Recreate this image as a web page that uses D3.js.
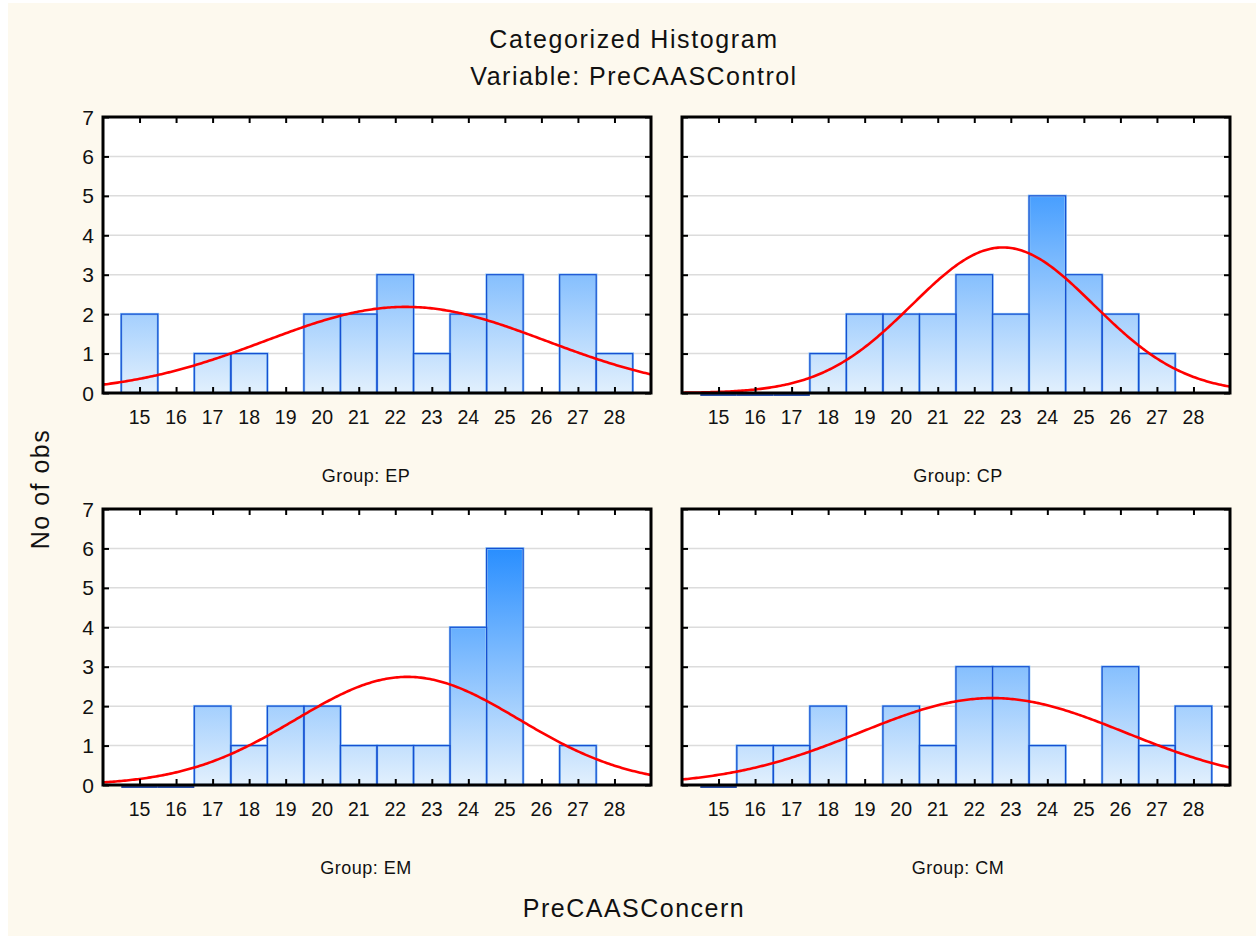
<!DOCTYPE html>
<html>
<head>
<meta charset="utf-8">
<script src="https://cdn.jsdelivr.net/npm/d3@7"></script>
<style>
  html, body { margin: 0; padding: 0; background: #ffffff; }
  svg { display: block; }
  text { font-family: "Liberation Sans", Arial, sans-serif; fill: #111; }
</style>
</head>
<body>
<svg id="chart" width="1256" height="936"></svg>
<script>
// ---------- data ----------
const bins = [15, 16, 17, 18, 19, 20, 21, 22, 23, 24, 25, 26, 27, 28];
const groupNames = ["EP", "CP", "EM", "CM"];
const countsEP = [2, 0, 1, 1, 0, 2, 2, 3, 1, 2, 3, 0, 3, 1];
const countsCP = [0, 0, 0, 1, 2, 2, 2, 3, 2, 5, 3, 2, 1, 0];
const countsEM = [0, 0, 2, 1, 2, 2, 1, 1, 1, 4, 6, 0, 1, 0];
const countsCM = [0, 1, 1, 2, 0, 2, 1, 3, 3, 1, 0, 3, 1, 2];
const yTicks = [0, 1, 2, 3, 4, 5, 6, 7];
const titleLines = ["Categorized Histogram", "Variable: PreCAASControl"];
const xTitle = "PreCAASConcern";
const yTitle = "No of obs";

const allCounts = [countsEP, countsCP, countsEM, countsCM];

// ---------- layout ----------
const W = 1256, H = 936;
const panelW = 548, panelH = 276;
const colX = [103, 682];
const rowY = [117, 509];

const svg = d3.select("#chart");
svg.append("rect").attr("width", W).attr("height", H).attr("fill", "#ffffff");
svg.append("rect").attr("x", 8).attr("y", 3).attr("width", W - 8).attr("height", H - 3).attr("fill", "#fdf9ee");

const x = d3.scaleLinear().domain([14, 29]).range([0, panelW]);
const y = d3.scaleLinear().domain([0, 7]).range([panelH, 0]);

const defs = svg.append("defs");
const grad = defs.append("linearGradient")
  .attr("id", "barGrad")
  .attr("gradientUnits", "userSpaceOnUse")
  .attr("x1", 0).attr("x2", 0)
  .attr("y1", y(0)).attr("y2", y(7));
grad.append("stop").attr("offset", "0%").attr("stop-color", "#e2f0fd");
grad.append("stop").attr("offset", "100%").attr("stop-color", "#0a7eff");

defs.append("clipPath").attr("id", "plotClip")
  .append("rect").attr("x", 0).attr("y", 0).attr("width", panelW).attr("height", panelH);

// titles
svg.append("text").attr("x", 634).attr("y", 48).attr("text-anchor", "middle")
  .attr("font-size", 25).attr("letter-spacing", 1.6).text(titleLines[0]);
svg.append("text").attr("x", 634).attr("y", 85).attr("text-anchor", "middle")
  .attr("font-size", 25).attr("letter-spacing", 1.5).text(titleLines[1]);
svg.append("text").attr("x", 634).attr("y", 917).attr("text-anchor", "middle")
  .attr("font-size", 25).attr("letter-spacing", 1.5).text(xTitle);
svg.append("text").attr("transform", "translate(49,489) rotate(-90)").attr("text-anchor", "middle")
  .attr("font-size", 25).attr("letter-spacing", 1.5).text(yTitle);

const line = d3.line().x(d => x(d[0])).y(d => y(d[1]));

allCounts.forEach((counts, gi) => {
  const col = gi % 2, row = Math.floor(gi / 2);
  const g = svg.append("g").attr("transform", `translate(${colX[col]},${rowY[row]})`);

  g.append("rect").attr("width", panelW).attr("height", panelH).attr("fill", "#ffffff");

  g.selectAll("line.grid").data(yTicks.slice(1, -1)).join("line")
    .attr("class", "grid")
    .attr("x1", 0).attr("x2", panelW)
    .attr("y1", d => y(d)).attr("y2", d => y(d))
    .attr("stroke", "#dcdcdc").attr("stroke-width", 1.5);

  const data = bins.map((b, i) => ({ b, c: counts[i] }));
  const firstNonZero = counts.findIndex(c => c > 0);

  g.selectAll("rect.bar").data(data.filter(d => d.c > 0)).join("rect")
    .attr("class", "bar")
    .attr("x", d => x(d.b - 0.5))
    .attr("y", d => y(d.c))
    .attr("width", d => x(d.b + 0.5) - x(d.b - 0.5))
    .attr("height", d => y(0) - y(d.c))
    .attr("fill", "url(#barGrad)")
    .attr("stroke", "#8cc2f6").attr("stroke-width", 2.5);
  g.selectAll("rect.barin").data(data.filter(d => d.c > 0)).join("rect")
    .attr("class", "barin")
    .attr("x", d => x(d.b - 0.5))
    .attr("y", d => y(d.c))
    .attr("width", d => x(d.b + 0.5) - x(d.b - 0.5))
    .attr("height", d => y(0) - y(d.c))
    .attr("fill", "none")
    .attr("stroke", "#1650d2").attr("stroke-width", 1.2);

  const leading = data.slice(0, Math.max(firstNonZero, 0));
  g.selectAll("line.zero").data(leading).join("line")
    .attr("class", "zero")
    .attr("x1", d => x(d.b - 0.5)).attr("x2", d => x(d.b + 0.5))
    .attr("y1", y(0) + 2).attr("y2", y(0) + 2)
    .attr("stroke", "#2a4fa8").attr("stroke-width", 2);

  // fitted normal curve (from the counts)
  const n = d3.sum(counts);
  const mean = d3.sum(data, d => d.b * d.c) / n;
  const sd = Math.sqrt(d3.sum(data, d => d.c * (d.b - mean) ** 2) / (n - 1));
  const pts = d3.range(0, 301).map(i => {
    const xv = 14 + i * 15 / 300;
    const yv = n * Math.exp(-0.5 * ((xv - mean) / sd) ** 2) / (sd * Math.sqrt(2 * Math.PI));
    return [xv, yv];
  });
  g.append("path").datum(pts).attr("d", line)
    .attr("fill", "none").attr("stroke", "#ff0000").attr("stroke-width", 2.6)
    .attr("clip-path", "url(#plotClip)");

  const tickLen = 6;
  const styleTicks = a => {
    a.select(".domain").remove();
    a.selectAll("line").attr("stroke", "#000").attr("stroke-width", 2);
  };
  g.append("g").attr("transform", `translate(0,${panelH})`)
    .call(d3.axisBottom(x).tickValues(bins).tickSize(-tickLen).tickFormat("")).call(styleTicks);
  g.append("g")
    .call(d3.axisTop(x).tickValues(bins).tickSize(-tickLen).tickFormat("")).call(styleTicks);
  g.append("g")
    .call(d3.axisLeft(y).tickValues(yTicks).tickSize(-tickLen).tickFormat("")).call(styleTicks);
  g.append("g").attr("transform", `translate(${panelW},0)`)
    .call(d3.axisRight(y).tickValues(yTicks).tickSize(-tickLen).tickFormat("")).call(styleTicks);

  g.append("rect").attr("width", panelW).attr("height", panelH)
    .attr("fill", "none").attr("stroke", "#000").attr("stroke-width", 3);

  g.selectAll("text.xl").data(bins).join("text")
    .attr("class", "xl")
    .attr("x", d => x(d)).attr("y", panelH + 31)
    .attr("text-anchor", "middle").attr("font-size", 19.5)
    .text(d => d);

  if (col === 0) {
    g.selectAll("text.yl").data(yTicks).join("text")
      .attr("class", "yl")
      .attr("x", -9).attr("y", d => y(d) + 7.5)
      .attr("text-anchor", "end").attr("font-size", 21)
      .text(d => d);
  }

  g.append("text")
    .attr("x", col === 0 ? 263 : 276).attr("y", panelH + 89)
    .attr("text-anchor", "middle").attr("font-size", 18).attr("letter-spacing", 0.5)
    .text("Group: " + groupNames[gi]);
});
</script>
</body>
</html>
